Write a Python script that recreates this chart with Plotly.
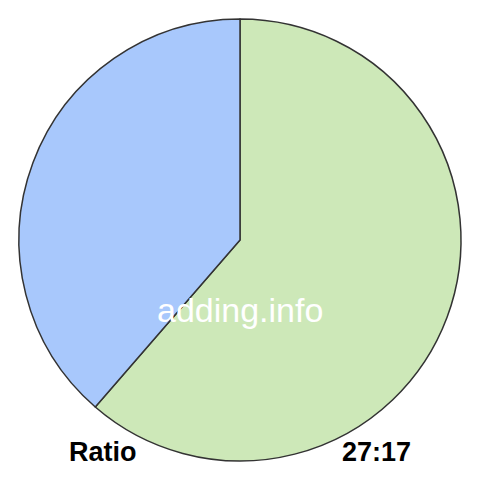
import plotly.graph_objects as go

labels = ["27", "17"]
values = [27, 17]
colors = ["#cde8b8", "#a8c8fc"]
title_left = "Ratio"
title_right = "27:17"
watermark = "adding.info"

fig = go.Figure(go.Pie(
    labels=labels, values=values, sort=False, direction="clockwise", rotation=0,
    marker=dict(colors=colors, line=dict(color="#333333", width=1.5)),
    textinfo="none", hoverinfo="none", showlegend=False,
    domain=dict(x=[19/480, 461/480], y=[19/480, 461/480]),
))
fig.update_layout(
    width=480, height=480, margin=dict(l=0, r=0, t=0, b=0),
    paper_bgcolor="white", plot_bgcolor="white",
    annotations=[
        dict(text=watermark, x=240/480, y=1-310/480, xref="paper", yref="paper",
             xanchor="center", yanchor="middle",
             showarrow=False, font=dict(family="Liberation Sans, Arial", size=34, color="white")),
        dict(text="<b>"+title_left+"</b>", x=103/480, y=1-452/480, xref="paper", yref="paper",
             xanchor="center", yanchor="middle",
             showarrow=False, font=dict(family="Liberation Sans, Arial", size=27, color="black")),
        dict(text="<b>"+title_right+"</b>", x=376/480, y=1-452/480, xref="paper", yref="paper",
             xanchor="center", yanchor="middle",
             showarrow=False, font=dict(family="Liberation Sans, Arial", size=27, color="black")),
    ],
)
fig.write_html("out.html", config={"displayModeBar": False},
               post_script="document.body.style.margin='0';")
